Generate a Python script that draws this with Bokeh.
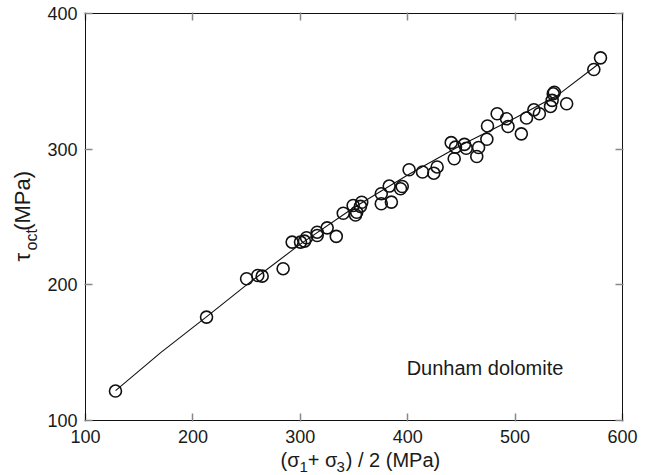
from bokeh.plotting import figure
from bokeh.models import LinearAxis, Label, Title, FixedTicker, CustomJSTickFormatter, Range1d
from bokeh.embed import file_html
from bokeh.resources import INLINE

# data
sigma_mean = [127.9, 212.7, 250.0, 260.4, 264.5, 284.0, 292.4, 300.2, 303.9, 305.8,
              315.7, 315.7, 325.0, 333.5, 340.0, 349.2, 351.4, 352.5, 357.2, 356.0,
              375.4, 375.4, 382.8, 384.8, 393.3, 394.9, 401.3, 413.8, 424.3, 427.4,
              440.5, 443.3, 444.5, 452.8, 454.5, 464.3, 466.0, 473.7, 474.3, 483.3,
              492.0, 493.4, 505.8, 510.6, 517.5, 522.6, 533.0, 534.5, 535.5, 536.5,
              548.0, 573.3, 579.5]
tau_oct = [121.7, 176.2, 204.5, 206.9, 206.4, 211.9, 231.5, 231.5, 232.2, 234.7,
           238.8, 236.4, 242.0, 235.7, 252.8, 258.5, 251.5, 253.5, 260.9, 257.8,
           267.1, 259.8, 272.8, 261.0, 270.8, 272.5, 284.8, 283.2, 282.3, 286.9,
           304.8, 292.9, 301.5, 303.5, 300.7, 294.6, 301.2, 307.3, 317.1, 326.1,
           322.4, 316.7, 311.3, 323.0, 329.0, 326.1, 331.5, 336.0, 340.8, 342.0,
           333.5, 358.7, 367.3]

fit_x = [128, 170, 212, 250, 300, 350, 400, 450, 500, 540, 578]
fit_y = [122, 150, 176, 200, 230, 257, 281, 303, 323, 340, 363]

x_ticks = [100, 200, 300, 400, 500, 600]
y_ticks = [100, 200, 300, 400]

FONT = "Liberation Sans"
INK = "#1a1a1a"

p = figure(width=647, height=475, output_backend="svg", toolbar_location=None,
           x_range=Range1d(100, 600), y_range=Range1d(100, 400),
           x_axis_location=None, y_axis_location=None,
           min_border_left=85, min_border_right=25, min_border_top=13, min_border_bottom=55)
p.grid.visible = False
p.outline_line_color = "#222222"
p.outline_line_width = 1
p.background_fill_color = "white"
p.border_fill_color = "white"

empty = CustomJSTickFormatter(code="return ''")

def style(ax, labels=True):
    ax.axis_line_color = "#111111"
    ax.axis_line_width = 1
    ax.major_tick_line_color = "#888888"
    ax.major_tick_line_width = 1.5
    ax.major_tick_in = 7
    ax.major_tick_out = 1
    ax.minor_tick_line_color = None
    ax.major_label_text_font = FONT
    ax.major_label_text_font_size = "18px"
    ax.major_label_text_color = INK
    if not labels:
        ax.formatter = empty
        ax.major_label_text_font_size = "0px"

xb = LinearAxis(ticker=FixedTicker(ticks=x_ticks)); style(xb); xb.major_label_standoff = 8
yl = LinearAxis(ticker=FixedTicker(ticks=y_ticks)); style(yl); yl.major_label_standoff = 7
xt = LinearAxis(ticker=FixedTicker(ticks=x_ticks)); style(xt, False)
yr = LinearAxis(ticker=FixedTicker(ticks=y_ticks)); style(yr, False)
p.add_layout(xb, "below")
p.add_layout(yl, "left")
p.add_layout(xt, "above")
p.add_layout(yr, "right")

EN = "\u2002"; EM = "\u2003"; P4 = "\u2005"; P6 = "\u2006"

# x axis label: main line and subscripts
x_main = Title(text="(σ" + P4 + P6 + "+ σ" + P4 + P6 + ") / 2 (MPa)", align="left", offset=195,
               vertical_align="bottom", standoff=1.6, text_font=FONT, text_font_size="20px",
               text_font_style="normal", text_color=INK)
x_sub = Title(text="1" + EM + EN + P4 + P6 + "3", align="left", offset=195 + 19,
              vertical_align="top", standoff=-27.6, text_font=FONT, text_font_size="15px",
              text_font_style="normal", text_color=INK)
p.add_layout(x_main, "below")
p.add_layout(x_sub, "below")

# y axis label: subscript first (inner), then the main text around it
y_sub = Title(text="oct", align="left", offset=170, vertical_align="top", standoff=6,
              text_font=FONT, text_font_size="16px", text_font_style="normal", text_color=INK)
y_main = Title(text="τ" + EN + EN + "(MPa)", align="left", offset=159,
               vertical_align="bottom", standoff=-31.2, text_font=FONT, text_font_size="22px",
               text_font_style="normal", text_color=INK)
p.add_layout(y_sub, "left")
p.add_layout(y_main, "left")

p.line(fit_x, fit_y, line_color="#111111", line_width=1.1)
p.scatter(sigma_mean, tau_oct, marker="circle", size=12, fill_color=None,
          line_color="#111111", line_width=1.6)

p.add_layout(Label(x=472, y=139, text="Dunham dolomite", text_font=FONT,
                   text_font_size="20px", text_color=INK,
                   text_align="center", text_baseline="middle"))

open("out.html", "w").write(file_html(p, INLINE))
